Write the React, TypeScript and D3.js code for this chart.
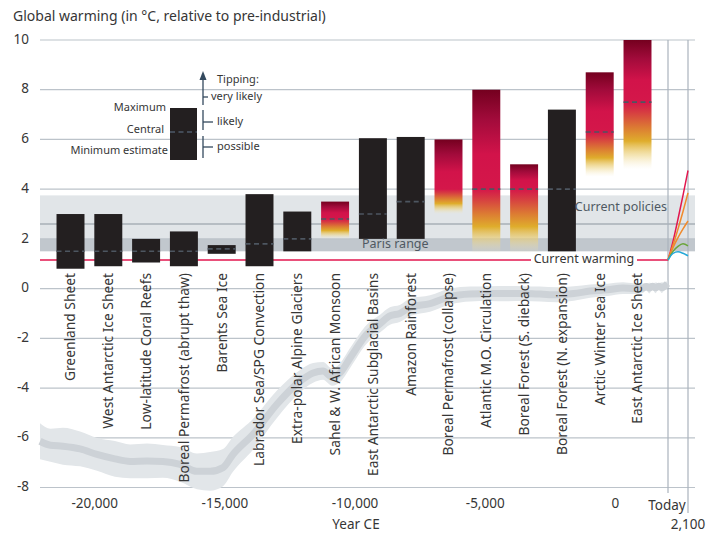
import React from "react";
import * as d3 from "d3";

// Tipping elements with their temperature thresholds (°C above pre-industrial)
const categories = [
  "Greenland Sheet",
  "West Antarctic Ice Sheet",
  "Low-latitude Coral Reefs",
  "Boreal Permafrost (abrupt thaw)",
  "Barents Sea Ice",
  "Labrador Sea/SPG Convection",
  "Extra-polar Alpine Glaciers",
  "Sahel & W. African Monsoon",
  "East Antarctic Subglacial Basins",
  "Amazon Rainforest",
  "Boreal Permafrost (collapse)",
  "Atlantic M.O. Circulation",
  "Boreal Forest (S. dieback)",
  "Boreal Forest (N. expansion)",
  "Arctic Winter Sea Ice",
  "East Antarctic Ice Sheet",
];
const minEstimate = [0.8, 0.9, 1.05, 0.9, 1.4, 0.9, 1.5, 2.0, 2.0, 2.0, 3.0, 1.4, 1.4, 1.5, 4.5, 4.8];
const centralEstimate: (number | null)[] = [1.5, 1.5, 1.5, 1.5, 1.6, 1.8, 2.0, 2.8, 3.0, 3.5, null, 4.0, 4.0, 4.0, 6.3, 7.5];
const maxEstimate = [3.0, 3.0, 2.0, 2.3, 1.75, 3.8, 3.1, 3.5, 6.05, 6.1, 6.0, 8.0, 5.0, 7.2, 8.7, 10.0];
// graded = shown with the likelihood colour ramp instead of a solid block
const graded = [false, false, false, false, false, false, false, true, false, false, true, true, true, false, true, true];

// Reference warming levels
const currentWarming = 1.15;
const parisRange = [1.5, 2.0];
const currentPolicies = [2.0, 3.75];
const currentPoliciesCentral = 2.6;

// Reconstructed global mean temperature since the Last Glacial Maximum
const paleoYears = [
  -22100, -21700, -21220, -20560, -19910, -19220, -18640, -17990, -17380, -16720,
  -16070, -15570, -15070, -14690, -13920, -13000, -12110, -11610, -11230, -10880,
  -10580, -10190, -9540, -9040, -8660, -8280, -7880, -7120, -6350, -5580,
  -4820, -4200, -3550, -2900, -2240, -1600, -970, -300, 290, 700,
  1060, 1180, 1300, 1420, 1540, 1660, 1780, 1900, 2000,
];
const paleoMean = [
  -6.14, -6.3, -6.34, -6.45, -6.67, -6.85, -6.95, -6.93, -6.95, -7.07,
  -7.35, -7.35, -7.2, -6.67, -5.86, -4.65, -3.72, -3.39, -3.31, -3.56,
  -3.39, -2.79, -1.82, -1.41, -1.1, -1.0, -0.75, -0.6, -0.32, -0.22,
  -0.2, -0.2, -0.2, -0.22, -0.25, -0.2, -0.1, -0.05, 0.02, 0.0,
  0.02, 0.08, 0.02, 0.09, 0.03, 0.1, 0.04, 0.1, 0.2,
];
const paleoSpread = [
  0.72, 0.66, 0.74, 0.7, 0.66, 0.72, 0.68, 0.7, 0.66, 0.7,
  0.72, 0.78, 0.75, 0.7, 0.62, 0.55, 0.45, 0.4, 0.36, 0.35,
  0.38, 0.4, 0.38, 0.36, 0.35, 0.34, 0.35, 0.33, 0.32, 0.3,
  0.3, 0.31, 0.3, 0.3, 0.3, 0.29, 0.27, 0.25, 0.24, 0.22,
  0.2, 0.12, 0.22, 0.12, 0.22, 0.12, 0.22, 0.14, 0.15,
];

// Warming projections to 2100
const scenarioYears = [2020, 2040, 2060, 2080, 2100];
const scenarioNames = ["SSP5-8.5", "SSP3-7.0", "SSP2-4.5", "SSP1-2.6", "SSP1-1.9"];
const scenarioValues = [
  [1.15, 1.9, 2.8, 3.75, 4.75],
  [1.15, 1.75, 2.4, 3.1, 3.85],
  [1.15, 1.65, 2.05, 2.4, 2.72],
  [1.15, 1.5, 1.7, 1.8, 1.72],
  [1.15, 1.42, 1.48, 1.42, 1.32],
];
const scenarioColors = ["#e2164e", "#f08a2c", "#f08a2c", "#6aa43a", "#25a8d8"];

const yTicks = [-8, -6, -4, -2, 0, 2, 4, 6, 8, 10];
const xTicks = [-20000, -15000, -10000, -5000, 0];

const FONT = "'Noto Sans', 'Open Sans', sans-serif";
const W = 721;
const H = 533;
const gridLeft = 40;
const gridRight = 695;

const fmt = d3.formatLocale({ decimal: ".", thousands: ",", grouping: [3], currency: ["", ""], minus: "-" }).format(",");

const y = d3.scaleLinear().domain([-8, 10]).range([487.5, 40]);
const xPast = d3.scaleLinear().domain([-22100, 2020]).range([40, 668]);
const xFuture = d3.scaleLinear().domain([2020, 2100]).range([668, 688]);
const band = d3.scaleBand<string>().domain(categories).range([51.6, 656.4]).paddingInner(0.26).paddingOuter(0.13);

function rampStops(maxV: number, cenV: number, minV: number) {
  const y0 = y(maxV);
  const y1 = y(minV);
  const tc = (y(cenV) - y0) / (y1 - y0);
  const below = (f: number) => tc + (1 - tc) * f;
  return [
    { o: 0, c: "#74001f", a: 1 },
    { o: tc * 0.3, c: "#a20b3b", a: 1 },
    { o: tc * 0.65, c: "#d2134a", a: 1 },
    { o: tc, c: "#d4174a", a: 1 },
    { o: below(0.14), c: "#d63a42", a: 1 },
    { o: below(0.38), c: "#dc7b33", a: 1 },
    { o: below(0.58), c: "#dfad2c", a: 1 },
    { o: below(0.8), c: "#ecd27e", a: 0.55 },
    { o: 1, c: "#f5e8c0", a: 0 },
  ];
}

export default function App() {
  const paleo = paleoYears.map((yr, i) => ({ yr, m: paleoMean[i], s: paleoSpread[i] }));
  const paleoArea = d3
    .area<{ yr: number; m: number; s: number }>()
    .x((d) => xPast(d.yr))
    .y0((d) => y(d.m - d.s))
    .y1((d) => y(d.m + d.s))
    .curve(d3.curveMonotoneX);
  const paleoLine = d3
    .line<{ yr: number; m: number; s: number }>()
    .x((d) => xPast(d.yr))
    .y((d) => y(d.m))
    .curve(d3.curveMonotoneX);
  const scenLine = d3
    .line<number>()
    .x((_, i) => xFuture(scenarioYears[i]))
    .y((v) => y(v))
    .curve(d3.curveMonotoneX);

  const bw = band.bandwidth();
  const textColor = "#363636";

  return (
    <svg
      width={W}
      height={H}
      viewBox={`0 0 ${W} ${H}`}
      style={{ position: "absolute", left: 0, top: 0, background: "#fff", fontFamily: FONT }}
    >
      <defs>
        {categories.map((c, i) => {
          if (!graded[i]) return null;
          const cen = centralEstimate[i] ?? minEstimate[i] + (maxEstimate[i] - minEstimate[i]) / 3;
          return (
            <linearGradient
              key={c}
              id={`ramp-${i}`}
              gradientUnits="userSpaceOnUse"
              x1={0}
              x2={0}
              y1={y(maxEstimate[i])}
              y2={y(minEstimate[i])}
            >
              {rampStops(maxEstimate[i], cen, minEstimate[i]).map((s, k) => (
                <stop key={k} offset={s.o} stopColor={s.c} stopOpacity={s.a} />
              ))}
            </linearGradient>
          );
        })}
      </defs>

      {/* Title */}
      <text x={13} y={17} fontSize={14} fill={textColor} dominantBaseline="middle">
        Global warming (in °C, relative to pre-industrial)
      </text>

      {/* Policy bands */}
      <rect
        x={gridLeft}
        width={gridRight - gridLeft}
        y={y(currentPolicies[1])}
        height={y(currentPolicies[0]) - y(currentPolicies[1])}
        fill="#e1e5e8"
      />
      <rect
        x={gridLeft}
        width={gridRight - gridLeft}
        y={y(parisRange[1])}
        height={y(parisRange[0]) - y(parisRange[1])}
        fill="#c1c7cd"
      />

      {/* Grid */}
      {yTicks.map((t) => (
        <g key={t}>
          <line x1={gridLeft} x2={gridRight} y1={y(t)} y2={y(t)} stroke="#bcc3ca" strokeWidth={1.2} />
          <text x={29} y={y(t)} fontSize={13.5} fill={textColor} textAnchor="end" dominantBaseline="middle">
            {fmt(t)}
          </text>
        </g>
      ))}
      <line
        x1={gridLeft}
        x2={gridRight}
        y1={y(currentPoliciesCentral)}
        y2={y(currentPoliciesCentral)}
        stroke="#a7afb7"
        strokeWidth={1.4}
      />

      {/* Today and 2100 markers */}
      <line x1={xFuture(2020)} x2={xFuture(2020)} y1={y(10)} y2={493} stroke="#aab3bc" strokeWidth={1.2} />
      <line x1={xFuture(2100)} x2={xFuture(2100)} y1={y(10)} y2={513} stroke="#aab3bc" strokeWidth={1.2} />

      {/* Temperature reconstruction */}
      <path d={paleoArea(paleo) ?? ""} fill="#e2e6e9" />
      <path d={paleoLine(paleo) ?? ""} fill="none" stroke="#cdd2d7" strokeWidth={7} strokeLinejoin="round" />

      {/* Current warming */}
      <line
        x1={gridLeft}
        x2={xFuture(2020)}
        y1={y(currentWarming)}
        y2={y(currentWarming)}
        stroke="#e2164e"
        strokeWidth={1.4}
      />

      {/* Threshold bars */}
      {categories.map((c, i) => {
        const x0 = band(c) ?? 0;
        const top = y(maxEstimate[i]);
        const bottom = y(minEstimate[i]);
        const cen = centralEstimate[i];
        return (
          <g key={c}>
            <rect
              x={x0}
              width={bw}
              y={top}
              height={bottom - top}
              fill={graded[i] ? `url(#ramp-${i})` : "#231f20"}
            />
            {cen !== null && (
              <line
                x1={x0}
                x2={x0 + bw}
                y1={y(cen)}
                y2={y(cen)}
                stroke="#4d5660"
                strokeWidth={1.6}
                strokeDasharray="5 3.5"
              />
            )}
          </g>
        );
      })}

      {/* Category labels */}
      {categories.map((c) => (
        <text
          key={c}
          transform={`translate(${(band(c) ?? 0) + bw / 2},273) rotate(-90)`}
          textAnchor="end"
          dy="0.36em"
          fontSize={13.8}
          fill={textColor}
        >
          {c}
        </text>
      ))}

      {/* Band labels */}
      <text x={362} y={y(1.75)} fontSize={12.5} fill="#4f5962" dominantBaseline="middle">
        Paris range
      </text>
      <text x={667} y={208} fontSize={12.5} fill="#4f5962" textAnchor="end" dominantBaseline="middle">
        Current policies
      </text>
      <rect x={531} y={y(currentWarming) - 8} width={106} height={16} fill="#fff" />
      <text x={584} y={y(currentWarming)} fontSize={12.5} fill={textColor} textAnchor="middle" dominantBaseline="middle">
        Current warming
      </text>

      {/* Projections */}
      {scenarioValues.map((vals, i) => (
        <path
          key={scenarioNames[i]}
          d={scenLine(vals) ?? ""}
          fill="none"
          stroke={scenarioColors[i]}
          strokeWidth={1.5}
        />
      ))}

      {/* X axis */}
      {xTicks.map((t) => (
        <text key={t} x={xPast(t)} y={504} fontSize={13.5} fill={textColor} textAnchor="middle" dominantBaseline="middle">
          {fmt(t)}
        </text>
      ))}
      <text x={xFuture(2020) - 1} y={506} fontSize={13.5} fill={textColor} textAnchor="middle" dominantBaseline="middle">
        Today
      </text>
      <text x={xFuture(2100)} y={525} fontSize={13.5} fill={textColor} textAnchor="middle" dominantBaseline="middle">
        {fmt(2100)}
      </text>
      <text x={356} y={525} fontSize={13.5} fill={textColor} textAnchor="middle" dominantBaseline="middle">
        Year CE
      </text>

      {/* Legend: estimate markers */}
      <g>
        <rect x={170} y={108} width={27} height={52} fill="#231f20" />
        <line x1={170} x2={197} y1={132} y2={132} stroke="#4d5a68" strokeWidth={1.4} strokeDasharray="5 3.5" />
        <text x={166} y={108} fontSize={11} fill={textColor} textAnchor="end" dominantBaseline="middle">
          Maximum
        </text>
        <text x={164} y={130} fontSize={11} fill={textColor} textAnchor="end" dominantBaseline="middle">
          Central
        </text>
        <text x={168} y={151} fontSize={11} fill={textColor} textAnchor="end" dominantBaseline="middle">
          Minimum estimate
        </text>
      </g>

      {/* Legend: tipping likelihood */}
      <g stroke="#34495e" strokeWidth={1.3}>
        <line x1={203} x2={203} y1={78} y2={105} />
        <line x1={203} x2={208} y1={97} y2={97} />
        <line x1={203} x2={203} y1={110} y2={130} />
        <line x1={203} x2={213} y1={122} y2={122} />
        <line x1={203} x2={203} y1={136} y2={158} />
        <line x1={203} x2={213} y1={147} y2={147} />
      </g>
      <polygon points="203,71 199.5,80 206.5,80" fill="#34495e" />
      <text x={217} y={80} fontSize={11} fill={textColor} dominantBaseline="middle">
        Tipping:
      </text>
      <text x={211} y={97} fontSize={11} fill={textColor} dominantBaseline="middle">
        very likely
      </text>
      <text x={217} y={122} fontSize={11} fill={textColor} dominantBaseline="middle">
        likely
      </text>
      <text x={217} y={147} fontSize={11} fill={textColor} dominantBaseline="middle">
        possible
      </text>
    </svg>
  );
}
